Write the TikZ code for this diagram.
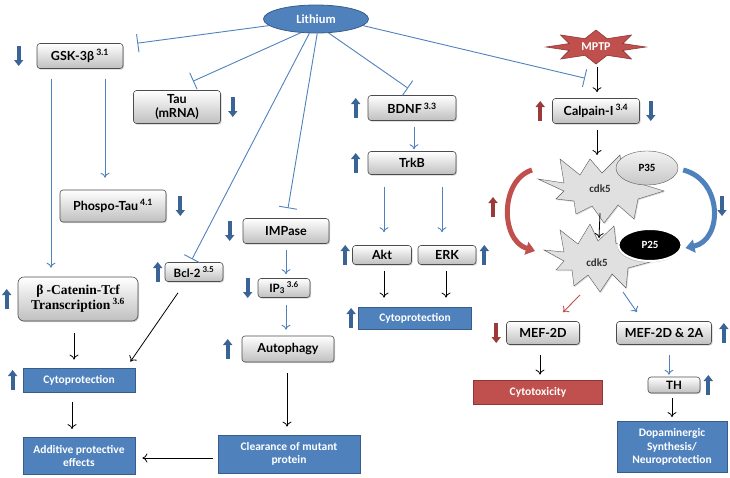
\documentclass[tikz,border=0pt]{standalone}
\usepackage{fontspec}
\newfontfamily\gillf{Lato}
\newfontfamily\calf{Carlito}
\newfontfamily\serf{Liberation Serif}
\usetikzlibrary{arrows.meta,shapes.geometric,shadows,calc,positioning}
\definecolor{lineblue}{HTML}{4F81BD}
\definecolor{boxblue}{HTML}{4F81BD}
\definecolor{boxblueline}{HTML}{385D8A}
\definecolor{indblue}{HTML}{3A6496}
\definecolor{boxred}{HTML}{C0504D}
\definecolor{boxredline}{HTML}{8C3836}
\definecolor{indred}{HTML}{9B3B39}
\tikzset{
    gbox/.style={
        rectangle,
        rounded corners=3pt,
        draw=black!70,
        semithick,
        top color=white,
        bottom color=black!25,
        drop shadow={shadow xshift=1pt,shadow yshift=-1.2pt,opacity=0.35},
        font=\gillf\bfseries\fontsize{12.5}{14}\selectfont,
        inner sep=1pt,
        align=center,
    },
    sbox/.style={
        gbox,
        font=\gillf\bfseries\fontsize{11.5}{13}\selectfont,
    },
    bbox/.style={
        rectangle,
        draw=boxblueline,
        thick,
        fill=boxblue,
        text=white,
        font=\calf\bfseries\fontsize{11.5}{13.5}\selectfont,
        inner sep=1pt,
        align=center,
    },
    rbox/.style={
        bbox,
        draw=boxredline,
        fill=boxred,
    },
    lith/.style={
        ellipse,
        draw=boxblueline,
        thick,
        fill=boxblue,
        text=white,
        minimum width=105pt,
        minimum height=28pt,
        inner sep=0pt,
        font=\calf\bfseries\fontsize{12.5}{14}\selectfont,
    },
    cdkstar/.style={
        draw=black!65,
        fill=black!12,
        drop shadow={shadow xshift=1pt,shadow yshift=-1pt,opacity=0.3},
    },
    cdklabel/.style={
        text=black!80,
        font=\calf\bfseries\fontsize{11}{13}\selectfont,
    },
    pgray/.style={
        ellipse,
        draw=black!65,
        top color=black!5,
        bottom color=black!22,
        minimum width=62pt,
        minimum height=34pt,
        inner sep=0pt,
        font=\calf\bfseries\fontsize{11}{13}\selectfont,
    },
    pblack/.style={
        ellipse,
        draw=white,
        line width=2pt,
        fill=black,
        text=white,
        drop shadow={shadow xshift=-1pt,shadow yshift=-1.5pt,opacity=0.4},
        minimum width=63pt,
        minimum height=32pt,
        inner sep=0pt,
        font=\calf\bfseries\fontsize{11}{13}\selectfont,
    },
    mptp/.style={
        fill=boxred,
        draw=boxredline,
        semithick,
    },
    act/.style={
        draw=lineblue,
        line width=0.9pt,
        -{To[length=5pt,width=9pt]},
    },
    redact/.style={
        act,
        draw=boxred,
    },
    blk/.style={
        draw=black,
        thick,
        -{To[length=5pt,width=9pt]},
    },
    inh/.style={
        draw=lineblue,
        line width=0.9pt,
        -{Bar[width=18pt]},
    },
    ind/.style={
        draw=indblue,
        line width=3.8pt,
        -{Triangle[width=9pt,length=6pt]},
    },
    redind/.style={
        ind,
        draw=indred,
    },
    swing/.style={
        line width=5pt,
        -{Triangle[width=13pt,length=9pt]},
    },
}
\begin{document}
\begin{tikzpicture}[x=1pt,y=-1pt]
\useasboundingbox (0,0) rectangle (730,477);
\node[lith] (Li) at (316,19) {Lithium};
\node[gbox, minimum width=86pt, minimum height=25pt] (GSK) at (80,56) {GSK-3β\,\textsuperscript{3.1}};
\node[gbox, minimum width=87pt, minimum height=33pt] (Tau) at (177,107) {Tau\\(mRNA)};
\node[gbox, minimum width=106pt, minimum height=32pt] (PTau) at (113,206) {Phospo-Tau\,\textsuperscript{4.1}};
\node[gbox, rounded corners=6pt, minimum width=120pt, minimum height=44pt, font=\serf\bfseries\fontsize{13.5}{15}\selectfont] (BCat) at (78,299) {β -Catenin-Tcf\\Transcription\,\textsuperscript{3.6}};
\node[sbox, minimum width=58pt, minimum height=19pt] (Bcl) at (194,272) {Bcl-2\,\textsuperscript{3.5}};
\node[gbox, minimum width=86pt, minimum height=25pt] (IMP) at (286,231) {IMPase};
\node[sbox, minimum width=52pt, minimum height=19pt] (IP3) at (284,288) {IP\textsubscript{3}\,\textsuperscript{3.6}};
\node[gbox, minimum width=92pt, minimum height=26pt] (Auto) at (288,349) {Autophagy};
\node[gbox, minimum width=88pt, minimum height=25pt] (BDNF) at (412,108) {BDNF\,\textsuperscript{3.3}};
\node[gbox, minimum width=88pt, minimum height=23pt] (TrkB) at (412,163) {TrkB};
\node[gbox, minimum width=59pt, minimum height=19pt] (Akt) at (382,255) {Akt};
\node[gbox, minimum width=58pt, minimum height=19pt] (ERK) at (447,255) {ERK};
\node[bbox, minimum width=113pt, minimum height=22pt] (CytoM) at (415,318) {Cytoprotection};
\node[bbox, minimum width=112pt, minimum height=24pt] (CytoL) at (79,380) {Cytoprotection};
\node[bbox, minimum width=112pt, minimum height=37pt] (Add) at (79,456) {Additive protective\\effects};
\node[bbox, minimum width=142pt, minimum height=38pt] (Clear) at (289,454) {Clearance of mutant\\protein};
\coordinate (cM) at (596,47);
\draw[mptp] ($(cM)+(0:50 and 17)$) \foreach \a in {45,90,...,360} { -- ($(cM)+(\a-22.5:29 and 9)$) -- ($(cM)+(\a:50 and 17)$) } -- cycle;
\node[text=white, font=\calf\bfseries\fontsize{12}{14}\selectfont] (MPTP) at (cM) {MPTP};
\node[gbox, minimum width=87pt, minimum height=25pt] (Calp) at (596,111) {Calpain-I\,\textsuperscript{3.4}};
\coordinate (cA) at (600,189);
\draw[cdkstar] (cA) +(64,2) -- +(38,10) -- +(34,30) -- +(18,16) -- +(4,34) -- +(-8,17) -- +(-24,25) -- +(-26,12) -- +(-44,10) -- +(-36,2) -- +(-62,-10) -- +(-36,-6) -- +(-40,-30) -- +(-20,-14) -- +(-10,-30) -- +(2,-16) -- +(20,-34) -- +(22,-14) -- +(50,-22) -- +(38,-6) -- cycle;
\node[cdklabel] (CdkA) at (cA) {cdk5};
\node[pgray] (P35) at (647,168) {P35};
\coordinate (cB) at (596,258);
\draw[cdkstar] (cB) +(54,4) -- +(32,10) -- +(30,30) -- +(16,16) -- +(4,34) -- +(-8,17) -- +(-22,28) -- +(-24,12) -- +(-40,12) -- +(-32,3) -- +(-52,-8) -- +(-32,-6) -- +(-36,-28) -- +(-18,-14) -- +(-6,-34) -- +(2,-17) -- +(18,-32) -- +(20,-14) -- +(44,-22) -- +(32,-5) -- cycle;
\node[cdklabel] (CdkB) at ($(cB)+(1,5)$) {cdk5};
\node[pblack] (P25) at (650,245) {P25};
\node[gbox, minimum width=73pt, minimum height=23pt] (MEFD) at (543,333) {MEF-2D};
\node[gbox, minimum width=95pt, minimum height=23pt] (MEFA) at (664,333) {MEF-2D \& 2A};
\node[rbox, minimum width=129pt, minimum height=24pt] (Tox) at (538,392) {Cytotoxicity};
\node[sbox, minimum width=52pt, minimum height=16pt] (TH) at (674,385) {TH};
\node[bbox, minimum width=110pt, minimum height=51pt] (Dopa) at (672,447) {Dopaminergic\\Synthesis/\\Neuroprotection};

\draw[inh] (Li.188) -- ($(GSK.north east)+(14,0)$);
\draw[inh] (Li.222) -- ($(Tau.north)+(16,-9)$);
\draw[inh] (Li.245) -- ($(Bcl.north)+(-2,-3)$);
\draw[inh] (Li.275) -- ($(IMP.north)+(2,-10)$);
\draw[inh] (Li.312) -- ($(BDNF.north)+(-4,-7)$);
\draw[inh] (Li.352) -- ($(Calp.north)+(-11,-20)$);
\draw[act] ($(GSK.south)+(25,10)$) -- ($(PTau.north)+(-8,-12)$);
\draw[act] ($(GSK.south)+(-29,10)$) -- ($(BCat.north)+(-27,-9)$);
\draw[act] ($(IMP.south)+(0,6)$) -- ($(IP3.north)+(2,-4)$);
\draw[act] ($(IP3.south)+(2,7)$) -- ($(Auto.north)+(-2,-6)$);
\draw[act] ($(BDNF.south)+(2,6)$) -- ($(TrkB.north)+(2,-2)$);
\draw[act] ($(TrkB.south)+(-28,12)$) -- ($(Akt.north)+(2,-13)$);
\draw[act] ($(TrkB.south)+(30,12)$) -- ($(ERK.north)+(-5,-13)$);
\draw[blk] ($(Akt.south)+(2,6)$) -- ($(CytoM.north)+(-31,-9)$);
\draw[blk] ($(ERK.south)+(-1,6)$) -- ($(CytoM.north)+(31,-9)$);
\draw[blk] ($(BCat.south)+(-4,12)$) -- ($(CytoL.north)+(-5,-8)$);
\draw[blk] ($(Bcl.south)+(-16,11)$) -- ($(CytoL.north east)+(-5,-6)$);
\draw[blk] ($(CytoL.south)+(-7,10)$) -- ($(Add.north)+(-7,-8)$);
\draw[blk] ($(Auto.south)+(-1,11)$) -- ($(Clear.north)+(-2,-8)$);
\draw[blk] ($(Clear.west)+(-5,4)$) -- ($(Add.east)+(7,2)$);
\draw[blk] ($(MPTP)+(1,20)$) -- ($(Calp.north)+(1,-6)$);
\draw[blk] ($(Calp.south)+(1,6)$) -- ($(CdkA)+(-3,-34)$);
\draw[blk] ($(CdkA)+(0,24)$) -- ($(CdkB)+(2,-25)$);
\draw[redact] ($(CdkB)+(-17,32)$) -- ($(MEFD.north)+(20,-9)$);
\draw[act] ($(CdkB)+(26,29)$) -- ($(MEFA.north)+(-27,-9)$);
\draw[blk] ($(MEFD.south)+(-3,10)$) -- ($(Tox.north)+(2,-5)$);
\draw[act] ($(MEFA.south)+(5,10)$) -- ($(TH.north)+(-5,-2)$);
\draw[blk] ($(TH.south)+(-2,5)$) -- ($(Dopa.north)+(0,-4)$);
\draw[swing, draw=boxred] ($(CdkA)+(-68,-19)$) .. controls (500,180) and (500,240) .. ($(CdkB)+(-62,-12)$);
\draw[swing, draw=lineblue] ($(P35.east)+(5,2)$) .. controls (723,180) and (723,240) .. ($(P25.east)+(3,3)$);

\foreach \n/\dx in {GSK.west/-18, Tau.east/12, PTau.east/14, IMP.west/-13, IP3.west/-10, Calp.east/11}
    \draw[ind] ($(\n)+(\dx,-10)$) -- ++(0,20);
\foreach \n/\dx in {BCat.west/-11, Bcl.west/-7, Auto.west/-14, BDNF.west/-12, TrkB.west/-12, Akt.west/-7, ERK.east/8, CytoM.west/-7, CytoL.west/-10, MEFA.east/12, TH.east/8}
    \draw[ind] ($(\n)+(\dx,10)$) -- ++(0,-20);
\draw[redind] ($(Calp.west)+(-12,10)$) -- ++(0,-20);
\draw[redind] ($(MEFD.west)+(-10,-10)$) -- ++(0,20);
\draw[redind] ($(CdkA)+(-107,28)$) -- ++(0,-20);
\draw[ind] ($(CdkA)+(122,7)$) -- ++(0,20);
\end{tikzpicture}
\end{document}
